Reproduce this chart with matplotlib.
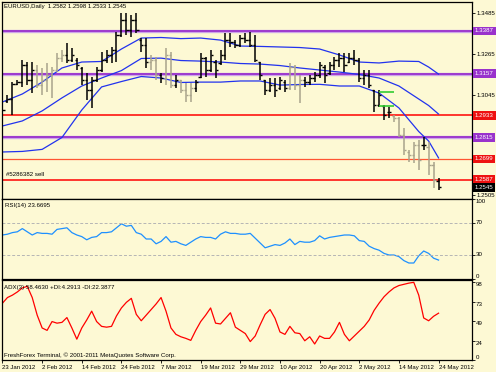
import numpy as np
import matplotlib.pyplot as plt
from matplotlib.transforms import blended_transform_factory

plt.rcParams['font.family'] = ['Liberation Sans', 'DejaVu Sans']

# Daily EURUSD bars, 23 Jan 2012 .. 24 May 2012
opens = [1.3016, 1.3010, 1.3021, 1.3102, 1.3112, 1.3204, 1.3123, 1.3177, 1.3096, 1.3123,
         1.3150, 1.3177, 1.3241, 1.3258, 1.3231, 1.3231, 1.3188, 1.3123, 1.3069, 1.3123,
         1.3177, 1.3231, 1.3258, 1.3284, 1.3365, 1.3446, 1.3392, 1.3446, 1.3338, 1.3311,
         1.3220, 1.3231, 1.3150, 1.3134, 1.3258, 1.3096, 1.3123, 1.3069, 1.3043, 1.3080,
         1.3140, 1.3241, 1.3177, 1.3220, 1.3215, 1.3258, 1.3338, 1.3328, 1.3311, 1.3349,
         1.3338, 1.3311, 1.3220, 1.3123, 1.3069, 1.3096, 1.3080, 1.3112, 1.3080, 1.3193,
         1.3096, 1.3123, 1.3112, 1.3134, 1.3150, 1.3193, 1.3161, 1.3204, 1.3231, 1.3241,
         1.3220, 1.3241, 1.3231, 1.3134, 1.3150, 1.3069, 1.2989, 1.2983, 1.2951, 1.2930,
         1.2919, 1.2827, 1.2736, 1.2720, 1.2774, 1.2774, 1.2763, 1.2666, 1.2582]
highs = [1.3053, 1.3043, 1.3112, 1.3123, 1.3231, 1.3220, 1.3220, 1.3204, 1.3188, 1.3215,
         1.3193, 1.3268, 1.3284, 1.3322, 1.3295, 1.3241, 1.3193, 1.3161, 1.3139, 1.3193,
         1.3274, 1.3284, 1.3301, 1.3381, 1.3483, 1.3483, 1.3473, 1.3483, 1.3349, 1.3349,
         1.3258, 1.3247, 1.3161, 1.3295, 1.3274, 1.3150, 1.3123, 1.3107, 1.3107, 1.3123,
         1.3268, 1.3247, 1.3284, 1.3231, 1.3284, 1.3376, 1.3376, 1.3338, 1.3365, 1.3376,
         1.3381, 1.3365, 1.3220, 1.3123, 1.3134, 1.3134, 1.3139, 1.3123, 1.3215, 1.3204,
         1.3150, 1.3139, 1.3150, 1.3166, 1.3220, 1.3204, 1.3220, 1.3247, 1.3268, 1.3268,
         1.3268, 1.3284, 1.3241, 1.3177, 1.3177, 1.3069, 1.3069, 1.2989, 1.2978, 1.2935,
         1.2924, 1.2865, 1.2747, 1.2790, 1.2801, 1.2817, 1.2790, 1.2682, 1.2598]
lows = [1.2935, 1.3000, 1.2935, 1.3096, 1.3086, 1.3096, 1.3053, 1.3080, 1.3043, 1.3059,
        1.3026, 1.3166, 1.3220, 1.3215, 1.3220, 1.3177, 1.3096, 1.3016, 1.2973, 1.3112,
        1.3166, 1.3215, 1.3215, 1.3220, 1.3354, 1.3365, 1.3354, 1.3376, 1.3274, 1.3188,
        1.3177, 1.3123, 1.3107, 1.3096, 1.3080, 1.3080, 1.3053, 1.3005, 1.3005, 1.3059,
        1.3134, 1.3139, 1.3166, 1.3134, 1.3204, 1.3231, 1.3301, 1.3295, 1.3301, 1.3322,
        1.3301, 1.3220, 1.3123, 1.3043, 1.3059, 1.3032, 1.3069, 1.3059, 1.3069, 1.3069,
        1.3000, 1.3086, 1.3096, 1.3112, 1.3134, 1.3107, 1.3150, 1.3177, 1.3193, 1.3166,
        1.3215, 1.3204, 1.3112, 1.3096, 1.3080, 1.2951, 1.2978, 1.2908, 1.2919, 1.2897,
        1.2817, 1.2720, 1.2682, 1.2677, 1.2639, 1.2747, 1.2612, 1.2543, 1.2533]
closes = [1.2962, 1.3021, 1.3102, 1.3112, 1.3204, 1.3123, 1.3177, 1.3096, 1.3123, 1.3150,
          1.3177, 1.3241, 1.3258, 1.3231, 1.3258, 1.3204, 1.3123, 1.3069, 1.3123, 1.3177,
          1.3231, 1.3258, 1.3284, 1.3365, 1.3446, 1.3392, 1.3446, 1.3392, 1.3311, 1.3220,
          1.3231, 1.3150, 1.3134, 1.3258, 1.3096, 1.3123, 1.3069, 1.3043, 1.3080, 1.3112,
          1.3241, 1.3177, 1.3258, 1.3177, 1.3258, 1.3338, 1.3328, 1.3311, 1.3349, 1.3338,
          1.3311, 1.3231, 1.3150, 1.3069, 1.3096, 1.3069, 1.3123, 1.3080, 1.3193, 1.3096,
          1.3123, 1.3112, 1.3134, 1.3150, 1.3204, 1.3150, 1.3204, 1.3231, 1.3241, 1.3204,
          1.3241, 1.3231, 1.3134, 1.3150, 1.3096, 1.2989, 1.3043, 1.2935, 1.2951, 1.2919,
          1.2827, 1.2747, 1.2720, 1.2774, 1.2693, 1.2774, 1.2666, 1.2586, 1.2545]

# Bollinger bands, read every few bars
band_idx = [0, 4, 8, 12, 16, 20, 24, 28, 32, 36, 40, 44, 48, 52, 56, 60, 64, 68, 72, 76, 80, 84, 86, 88]
bb_upper = [1.3005, 1.3048, 1.3112, 1.3188, 1.3220, 1.3223, 1.3290, 1.3349, 1.3352, 1.3346, 1.3349, 1.3338,
            1.3306, 1.3304, 1.3301, 1.3298, 1.3290, 1.3258, 1.3220, 1.3215, 1.3225, 1.3223, 1.3193, 1.3155]
bb_mid = [1.2876, 1.2903, 1.2957, 1.3027, 1.3091, 1.3134, 1.3174, 1.3239, 1.3241, 1.3228, 1.3225, 1.3220,
          1.3212, 1.3209, 1.3201, 1.3188, 1.3177, 1.3166, 1.3153, 1.3134, 1.3091, 1.3021, 1.2986, 1.2940]
bb_lower = [1.2736, 1.2739, 1.2750, 1.2814, 1.2962, 1.3086, 1.3115, 1.3142, 1.3134, 1.3110, 1.3112, 1.3112,
            1.3118, 1.3118, 1.3096, 1.3099, 1.3100, 1.3091, 1.3091, 1.3053, 1.2973, 1.2846, 1.2795, 1.2704]

rsi = [55, 56, 58, 59, 63, 59, 55, 58, 57, 57,
       56, 62, 63, 64, 58, 55, 53, 49, 52, 53,
       58, 58, 59, 64, 69, 66, 67, 58, 56, 50,
       50, 44, 47, 53, 46, 47, 44, 42, 46, 50,
       53, 52, 52, 50, 56, 59, 57, 57, 56, 56,
       57, 51, 45, 39, 41, 43, 42, 45, 50, 43,
       47, 46, 46, 48, 54, 50, 52, 53, 54, 55,
       55, 54, 48, 47, 41, 38, 36, 32, 30, 30,
       28, 23, 20, 20, 29, 35, 32, 26, 23.67]

adx = [71, 78, 81, 85, 90, 92, 78, 56, 40, 37,
       48, 46, 47, 53, 40, 26, 40, 50, 61, 48,
       42, 41, 42, 55, 65, 72, 77, 57, 49, 56,
       63, 70, 78, 61, 40, 32, 29, 27, 24.5, 37,
       48, 56, 65, 46, 45, 52, 59, 41, 37, 33,
       23, 30, 44, 57, 63, 52, 35, 32, 42, 34,
       33, 24, 29, 20, 30, 27, 27, 35, 47, 32,
       24, 30, 36, 42, 50, 62, 71, 79, 85, 90,
       93, 94.5, 96, 97, 81, 52.5, 49, 54.6, 58.46]

date_idx = [0, 8, 16, 24, 32, 40, 48, 56, 64, 72, 80, 88]
date_labels = ['23 Jan 2012', '2 Feb 2012', '14 Feb 2012', '24 Feb 2012', '7 Mar 2012', '19 Mar 2012',
               '29 Mar 2012', '10 Apr 2012', '20 Apr 2012', '2 May 2012', '14 May 2012', '24 May 2012']

purple_levels = [1.3387, 1.3157, 1.2815]
red_levels = [1.2933, 1.2699, 1.2587]
green_levels = [1.3060, 1.2983]
last_price = 1.2545
price_ticks = [1.3485, 1.3265, 1.3045, 1.2505]
rsi_ticks = [100, 70, 30, 0]
adx_ticks = [98, 73, 49, 24, 0]

# bars MT4 drew in the pale colour
FADED = {7, 8, 9, 10, 11, 12, 30, 31, 33, 34, 36, 37, 38, 58, 59, 60,
         79, 80, 81, 82, 83, 84, 86, 87}

BG = '#FDF9D4'
PURPLE = '#9932CC'
FS = 4.4

W, H = 496, 372
fig = plt.figure(figsize=(W / 100, H / 100), dpi=100, facecolor=BG)


def px_box(l, t, r, b):
    return [l / W, 1 - b / H, (r - l) / W, (b - t) / H]


ax_p = fig.add_axes(px_box(2, 2, 472, 199))
ax_r = fig.add_axes(px_box(2, 199, 472, 279), sharex=ax_p)
ax_a = fig.add_axes(px_box(2, 280, 472, 360), sharex=ax_p)

for ax in (ax_p, ax_r, ax_a):
    ax.set_facecolor(BG)
    for s in ax.spines.values():
        s.set_color('black')
        s.set_linewidth(0.9)
    ax.yaxis.tick_right()
    ax.tick_params(axis='y', length=2, width=0.6, pad=1.5, labelsize=FS, colors='black')
    ax.tick_params(axis='x', bottom=False, labelbottom=False)

x = np.arange(len(closes))
ax_p.set_xlim(-0.1, 94.75)

# --- price panel ---
bar_cols = ['#a9a48c' if i in FADED else 'black' for i in x]
ax_p.vlines(x, lows, highs, colors=bar_cols, lw=1.1, zorder=3)
ax_p.hlines(opens, x - 0.45, x, colors=bar_cols, lw=1.0, zorder=3)
ax_p.hlines(closes, x, x + 0.45, colors=bar_cols, lw=1.0, zorder=3)

for band in (bb_upper, bb_mid, bb_lower):
    ax_p.plot(band_idx, band, color='#2233EE', lw=0.9, zorder=2)

for lv in purple_levels:
    ax_p.axhline(lv, color='#CDA6E8', lw=2.4, zorder=1)
    ax_p.axhline(lv, color=PURPLE, lw=1.3, zorder=1)
ax_p.axhline(red_levels[0], color='red', lw=1.1, zorder=1)
ax_p.axhline(red_levels[1], color='#FF5533', lw=0.9, zorder=1)
ax_p.axhline(red_levels[2], color='red', lw=1.1, zorder=1)
ax_p.hlines(green_levels, 76, 79, colors='#33CC33', lw=1.2, zorder=4)

ax_p.set_ylim(1.2483, 1.3543)
ax_p.set_yticks(price_ticks)
ax_p.set_yticklabels([f'{v:.4f}' for v in price_ticks])

tr_p = blended_transform_factory(ax_p.transAxes, ax_p.transData)
boxed = [(v, PURPLE) for v in purple_levels] + [(v, '#EE1111') for v in red_levels] + [(last_price, 'black')]
for lv, col in boxed:
    ax_p.text(1.006, lv, f'{lv:.4f}', transform=tr_p, ha='left', va='center', fontsize=FS,
              color='white', clip_on=False, zorder=6,
              bbox=dict(boxstyle='square,pad=0.3', fc=col, ec='none'))

ax_p.text(0.004, 0.99, 'EURUSD,Daily  1.2582 1.2598 1.2533 1.2545', transform=ax_p.transAxes,
          ha='left', va='top', fontsize=4.3)
ax_p.text(0.009, 0.122, '#5286382 sell', transform=ax_p.transAxes, ha='left', va='center', fontsize=FS)

# --- RSI panel ---
ax_r.plot(x, rsi, color='#1E90FF', lw=0.9)
for lv in (70, 30):
    ax_r.axhline(lv, color='#B5B5B5', lw=0.7, dashes=(3, 2))
ax_r.set_ylim(0, 100)
ax_r.set_yticks(rsi_ticks)
ax_r.set_yticklabels([])
tr_r = blended_transform_factory(ax_r.transAxes, ax_r.transData)
for v in rsi_ticks:
    va = 'top' if v == 100 else ('bottom' if v == 0 else 'center')
    ax_r.text(1.008, v, str(v), transform=tr_r, ha='left', va=va, fontsize=FS, clip_on=False)
ax_r.text(0.006, 0.925, 'RSI(14) 23.6695', transform=ax_r.transAxes, ha='left', va='center', fontsize=FS)

# --- ADX panel ---
ax_a.plot(x, adx, color='red', lw=0.9)
ax_a.set_ylim(0.5, 99.9)
ax_a.set_yticks(adx_ticks)
ax_a.set_yticklabels([])
tr_a = blended_transform_factory(ax_a.transAxes, ax_a.transData)
for v in adx_ticks:
    va = 'bottom' if v == 0 else 'top'
    ax_a.text(1.008, v, str(v), transform=tr_a, ha='left', va=va, fontsize=FS, clip_on=False)
ax_a.text(0.004, 0.91, 'ADX(3) 58.4630 +DI:4.2913 -DI:22.3877', transform=ax_a.transAxes,
          ha='left', va='center', fontsize=FS)
ax_a.text(0.004, 0.054, 'FreshForex Terminal, \u00a9 2001-2011 MetaQuotes Software Corp.',
          transform=ax_a.transAxes, ha='left', va='center', fontsize=FS)

ax_a.tick_params(axis='x', bottom=True, labelbottom=True, length=2.5, width=0.6, pad=1,
                 labelsize=4.3, colors='black')
ax_a.set_xticks(date_idx)
ax_a.set_xticklabels(date_labels, ha='left')

fig.savefig('out.png', dpi=100, facecolor=BG)
